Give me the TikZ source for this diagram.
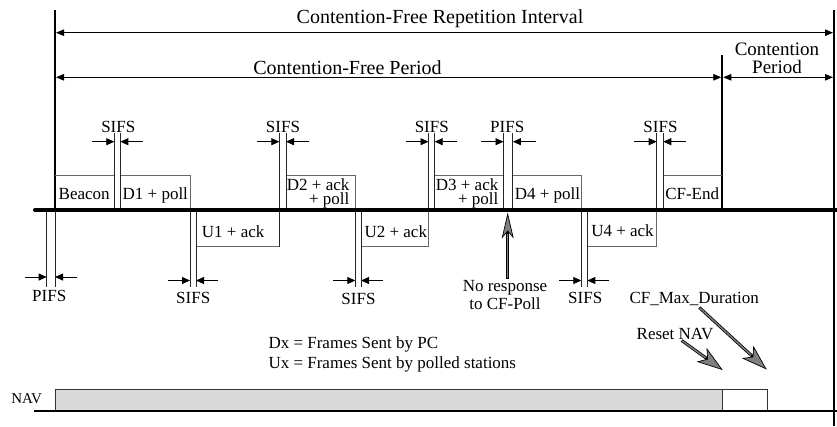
\documentclass[tikz,border=0pt]{standalone}
\usepackage{fontspec}
\setmainfont{Liberation Serif}
\usetikzlibrary{arrows.meta,calc}
\tikzset{
  lbl/.style={font=\fontsize{17}{14}\selectfont, inner sep=0pt, anchor=base},
  twoline/.style={font=\fontsize{17}{14.5}\selectfont, inner sep=0pt},
  head/.style={font=\fontsize{20}{16.5}\selectfont, inner sep=0pt, anchor=base},
  dimarrow/.style={line width=0.8pt, -{Triangle[length=8pt,width=7pt]}},
  spanarrow/.style={line width=0.8pt, {Triangle[length=8pt,width=6.5pt]}-{Triangle[length=8pt,width=6.5pt]}},
  tickline/.style={line width=0.9pt, black!85},
  framebox/.style={line width=0.9pt, black!60},
  barline/.style={line width=2pt},
  grayshaft/.style={line width=3pt, -{Stealth[length=26pt,width=#1,inset=7pt,line width=0.7pt,fill=black!50]}},
  grayshaft/.default=13pt,
  grayin/.style={black!50, line width=1.4pt, shorten >=21pt, shorten <=0.8pt},
}
\begin{document}
\begin{tikzpicture}[x=1pt,y=-1pt]
\useasboundingbox (0,0) rectangle (837,426);

% ---- main verticals
\coordinate (Ltop) at (55,10);
\coordinate (Lmid) at (55,210);
\coordinate (Lbot) at (55,287);
\coordinate (Rtop) at (834,10);
\coordinate (Rbot) at (834,426);
\coordinate (Ctop) at (722.3,55);
\coordinate (Cbot) at (722.3,210);
\draw[barline] (Ltop) -- (Lmid);
\draw[tickline] (Lmid) -- (Lbot);
\draw[barline] (Rtop) -- (Rbot);
\draw[barline] (Ctop) -- (Cbot);

% ---- span arrows and headings
\coordinate (cfriL) at (56,32.7);
\coordinate (cfriR) at (833,32.7);
\coordinate (cfpL) at (56,77.3);
\coordinate (cfpR) at (721.3,77.3);
\coordinate (cpL) at (723.3,77.3);
\coordinate (cpR) at (833,77.3);
\draw[spanarrow] (cfriL) -- (cfriR);
\draw[spanarrow] (cfpL) -- (cfpR);
\draw[spanarrow] (cpL) -- (cpR);
\node[head] (cfri) at (440,23) {Contention-Free Repetition Interval};
\node[head] (cfp) at (347.5,74) {Contention-Free Period};
\node[head, align=center, anchor=center, font=\fontsize{19}{18}\selectfont] (cp) at (777,58) {Contention\\Period};

% ---- frames above the medium
\draw[framebox] (55,175) -- (114.3,175) -- (114.3,210);
\draw[framebox] (120.3,210) -- (120.3,175) -- (190,175) -- (190,210);
\draw[framebox] (286,210) -- (286,175) -- (355.3,175) -- (355.3,210);
\draw[framebox] (434.7,210) -- (434.7,175) -- (503.5,175) -- (503.5,210);
\draw[framebox] (512.9,210) -- (512.9,175) -- (581.3,175) -- (581.3,210);
\draw[framebox] (663.3,210) -- (663.3,175) -- (722.3,175);
% ---- frames below the medium
\draw[framebox] (196,210) -- (196,246.5) -- (279.3,246.5) -- (279.3,210);
\draw[framebox] (361,210) -- (361,246.5) -- (428.5,246.5) -- (428.5,210);
\draw[framebox] (587.3,210) -- (587.3,246.5) -- (656.7,246.5) -- (656.7,210);

% ---- frame labels
\node[lbl] (beacon) at (84.2,199.5) {Beacon};
\node[lbl] (d1) at (155.3,199.5) {D1 + poll};
\node[twoline, align=right, anchor=east] (d2) at (349.6,193.2) {D2 + ack\\+ poll};
\node[twoline, align=right, anchor=east] (d3) at (498.5,193.2) {D3 + ack\\+ poll};
\node[lbl] (d4) at (547.5,199.5) {D4 + poll};
\node[lbl] (cfend) at (692.2,199.5) {CF-End};
\node[lbl] (u1) at (233.2,237) {U1 + ack};
\node[lbl] (u2) at (395.8,237) {U2 + ack};
\node[lbl] (u4) at (622.5,236.5) {U4 + ack};

% ---- interframe spaces above the medium (x1, x2, label centre, label)
\foreach \a/\b/\c/\t/\n in {114.3/120.3/118.3/SIFS/sa,279.3/286/283/SIFS/sb,428.5/434.7/431.8/SIFS/sc,503.5/512.9/507.2/PIFS/sd,656.7/663.3/660.5/SIFS/se}{
  \draw[tickline] (\a,133) -- (\a,210);
  \draw[tickline] (\b,133) -- (\b,210);
  \draw[dimarrow] (\a-22.6,141.7) -- (\a,141.7);
  \draw[dimarrow] (\b+22.6,141.7) -- (\b,141.7);
  \node[lbl] (\n) at (\c,132.7) {\t};
}
\draw[tickline] (279.3,210) -- (279.3,246.5);

% ---- interframe spaces below the medium
\foreach \a/\b/\c/\y/\ly/\t/\n in {46.7/55/49.2/277/301/PIFS/ba,190/196/193.2/280.5/303.3/SIFS/bb,355.3/361/358.5/280.5/304/SIFS/bc,581.3/587.3/585.2/280.5/303.3/SIFS/bd}{
  \draw[tickline] (\a,210) -- (\a,287);
  \draw[tickline] (\b,210) -- (\b,287);
  \draw[dimarrow] (\a-22,\y) -- (\a,\y);
  \draw[dimarrow] (\b+22,\y) -- (\b,\y);
  \node[lbl] (\n) at (\c,\ly) {\t};
}

% ---- the medium
\draw[line width=4pt, line cap=round] (35,210) -- (837,210);

% ---- no response arrow
\node[twoline, align=center, anchor=center, font=\fontsize{17}{18}\selectfont] (noresp) at (505,295) {No response\\to CF-Poll};
\coordinate (nrS) at (507.7,279);
\coordinate (nrT) at (507.7,212.5);
\draw[grayshaft=12pt] (nrS) -- (nrT);
\draw[grayin] (nrS) -- (nrT);

% ---- legend
\node[lbl, anchor=base west] (dx) at (268.3,348.3) {Dx = Frames Sent by PC};
\node[lbl, anchor=base west] (ux) at (268.3,368.3) {Ux = Frames Sent by polled stations};

% ---- NAV
\node[lbl, font=\fontsize{15}{15}\selectfont] (nav) at (26.7,403.3) {NAV};
\draw[line width=1pt, black!80, fill=black!15] (55.7,389) rectangle (722.7,410.7);
\draw[line width=1pt, black!80, fill=white] (722.7,389) rectangle (767.3,410.7);
\draw[line width=1.6pt] (34,410.7) -- (837,410.7);

% ---- CF_Max_Duration and Reset NAV
\node[lbl] (cfmax) at (694.2,303.3) {CF\_Max\_Duration};
\node[lbl] (reset) at (675,339) {Reset NAV};
\coordinate (rnS) at (681.7,340.5);
\coordinate (rnT) at (722.7,370);
\coordinate (cmS) at (699.3,307.5);
\coordinate (cmT) at (766.7,369.5);
\draw[grayshaft=17pt] (rnS) -- (rnT);
\draw[grayin] (rnS) -- (rnT);
\draw[grayshaft=17pt] (cmS) -- (cmT);
\draw[grayin] (cmS) -- (cmT);
\end{tikzpicture}
\end{document}
